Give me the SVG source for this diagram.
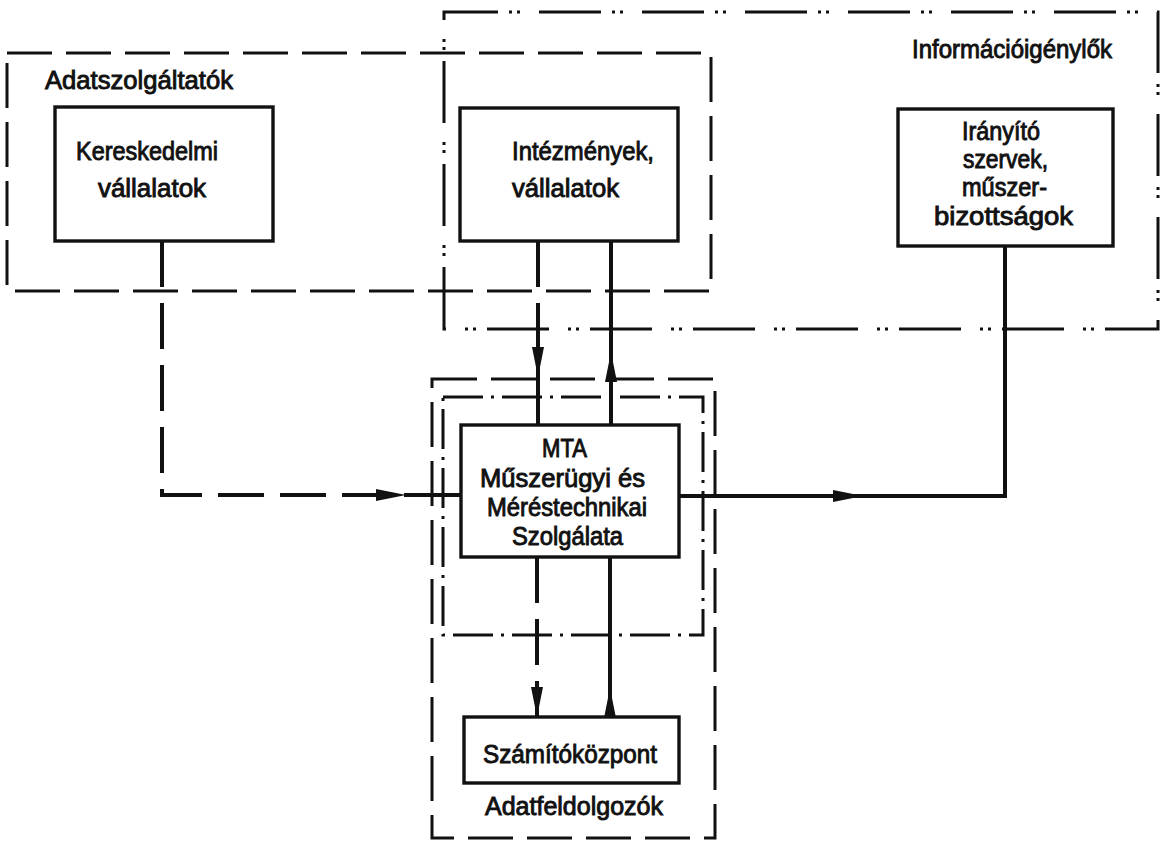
<svg xmlns="http://www.w3.org/2000/svg" width="1162" height="843" viewBox="0 0 1162 843">
<style>
.t{font-family:"Liberation Sans",Arial,sans-serif;font-size:25px;fill:#111;stroke:#111;stroke-width:0.9}
.box{fill:#fff;stroke:#111;stroke-width:3.4}
.dash{fill:none;stroke:#111;stroke-width:3;stroke-dasharray:45 14}
.dd{fill:none;stroke:#111;stroke-width:3;stroke-dasharray:62 11 3 5 3 19}
.dt{fill:none;stroke:#111;stroke-width:3;stroke-dasharray:40 8 3 8}
.cs{fill:none;stroke:#111;stroke-width:4}
.cd{fill:none;stroke:#111;stroke-width:4;stroke-dasharray:46 16}
</style>
<defs>
<marker id="ah" markerUnits="userSpaceOnUse" markerWidth="30" markerHeight="12" refX="30" refY="6" orient="auto" viewBox="0 0 30 12">
<path d="M0,0 L30,6 L0,12 Z" fill="#111"/>
</marker>
</defs>
<rect width="1162" height="843" fill="#fff"/>

<g id="g-adatszolgaltatok">
<path class="dash" d="M7,53 H711 V291 H7 Z"/>
<text class="t" x="45" y="89" textLength="188" lengthAdjust="spacingAndGlyphs">Adatszolgáltatók</text>
</g>

<g id="g-informacioigenylok">
<path class="dd" d="M444,329 V12 H1158 V329 Z"/>
<text class="t" x="912" y="58" textLength="200" lengthAdjust="spacingAndGlyphs">Információigénylők</text>
</g>

<g id="g-adatfeldolgozok">
<path class="dash" d="M432,379 H715 V838 H432 Z"/>
<path class="dt" d="M443,397 H703 V635 H443 Z"/>
<text class="t" x="485" y="815" textLength="178" lengthAdjust="spacingAndGlyphs">Adatfeldolgozók</text>
</g>

<g id="connectors">
<path class="cd" d="M162,241 V495 H406" marker-end="url(#ah)"/>
<path class="cs" d="M404,495 H461"/>
<path class="cd" d="M538,241 V377" marker-end="url(#ah)"/>
<path class="cs" d="M538,374 V425"/>
<path class="cs" d="M611,425 V352" marker-end="url(#ah)"/>
<path class="cs" d="M611,355 V241"/>
<path class="cd" d="M537,557 V717" marker-end="url(#ah)"/>
<path class="cs" d="M610,717 V688" marker-end="url(#ah)"/>
<path class="cs" d="M610,691 V557"/>
<path class="cs" d="M679,496 H863" marker-end="url(#ah)"/>
<path class="cs" d="M860,496 H1005 V246"/>
</g>

<g id="n-kereskedelmi">
<rect class="box" x="55" y="107" width="218" height="134"/>
<text class="t" x="76" y="160" textLength="142" lengthAdjust="spacingAndGlyphs">Kereskedelmi</text>
<text class="t" x="98" y="197" textLength="108" lengthAdjust="spacingAndGlyphs">vállalatok</text>
</g>

<g id="n-intezmenyek">
<rect class="box" x="460" y="108" width="218" height="133"/>
<text class="t" x="512" y="160" textLength="142" lengthAdjust="spacingAndGlyphs">Intézmények,</text>
<text class="t" x="512" y="197" textLength="107" lengthAdjust="spacingAndGlyphs">vállalatok</text>
</g>

<g id="n-iranyito">
<rect class="box" x="898" y="109" width="215" height="137"/>
<text class="t" x="962" y="140" textLength="78" lengthAdjust="spacingAndGlyphs">Irányító</text>
<text class="t" x="963" y="168" textLength="85" lengthAdjust="spacingAndGlyphs">szervek,</text>
<text class="t" x="962" y="196" textLength="85" lengthAdjust="spacingAndGlyphs">műszer-</text>
<text class="t" x="934" y="225" textLength="139" lengthAdjust="spacingAndGlyphs">bizottságok</text>
</g>

<g id="n-mta">
<rect class="box" x="461" y="425" width="218" height="132"/>
<text class="t" x="542" y="457" textLength="45" lengthAdjust="spacingAndGlyphs">MTA</text>
<text class="t" x="480" y="487" textLength="165" lengthAdjust="spacingAndGlyphs">Műszerügyi és</text>
<text class="t" x="487" y="516" textLength="160" lengthAdjust="spacingAndGlyphs">Méréstechnikai</text>
<text class="t" x="512" y="545" textLength="111" lengthAdjust="spacingAndGlyphs">Szolgálata</text>
</g>

<g id="n-szamitokozpont">
<rect class="box" x="464" y="717" width="215" height="66"/>
<text class="t" x="483" y="763" textLength="174" lengthAdjust="spacingAndGlyphs">Számítóközpont</text>
</g>
</svg>
